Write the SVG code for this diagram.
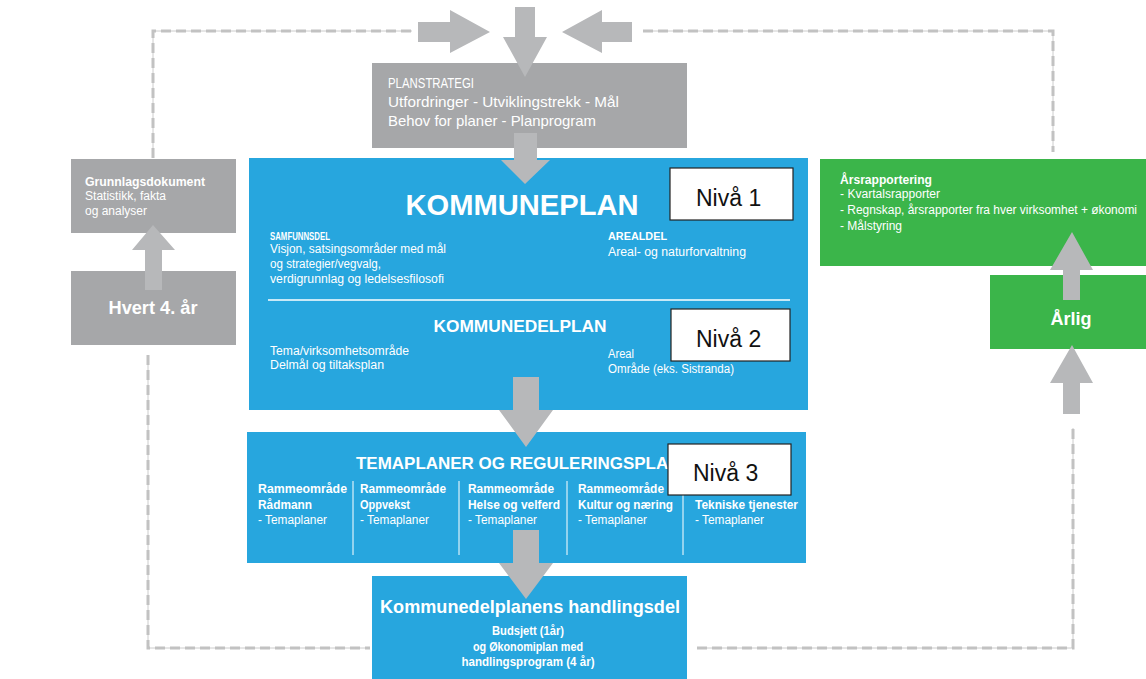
<svg xmlns="http://www.w3.org/2000/svg" width="1146" height="679" viewBox="0 0 1146 679">
<style>
text{font-family:"Liberation Sans",Arial,sans-serif;fill:#fff}
.b{font-weight:bold}
.s11{font-size:12px}
.s10{font-size:11px}
.blue{fill:#27a6de}
.gray{fill:#a6a7a9}
.green{fill:#3bb54a}
.arr{fill:#b7b8ba}
.niva{fill:#fff;stroke:#222;stroke-width:1.2}
.nt{font-family:"Liberation Sans",Arial,sans-serif;font-size:23px;fill:#111}
.dash{fill:none;stroke:#c2c2c2;stroke-width:3;stroke-dasharray:10 5}
.thin{fill:none;stroke:#cccccc;stroke-width:1}
.div{stroke:#fff;stroke-width:1}
</style>

<g id="planstrategi">
<rect class="gray" x="372" y="63" width="315" height="85"/>
<text x="388" y="88" font-size="15" textLength="86" lengthAdjust="spacingAndGlyphs">PLANSTRATEGI</text>
<text x="388" y="107" font-size="15" textLength="231" lengthAdjust="spacingAndGlyphs">Utfordringer - Utviklingstrekk - Mål</text>
<text x="388" y="126" font-size="15" textLength="208" lengthAdjust="spacingAndGlyphs">Behov for planer - Planprogram</text>
</g>

<g id="grunnlagsdokument">
<rect class="gray" x="71" y="159" width="165" height="74"/>
<text x="85" y="186" class="b s11" textLength="120" lengthAdjust="spacingAndGlyphs">Grunnlagsdokument</text>
<text x="85" y="200" class="s11" textLength="81" lengthAdjust="spacingAndGlyphs">Statistikk, fakta</text>
<text x="85" y="215" class="s11" textLength="62" lengthAdjust="spacingAndGlyphs">og analyser</text>
</g>

<g id="hvert4aar">
<rect class="gray" x="71" y="271" width="165" height="74"/>
<text x="153" y="314" class="b" font-size="18" text-anchor="middle" textLength="89" lengthAdjust="spacingAndGlyphs">Hvert 4. år</text>
</g>

<g id="kommuneplan">
<rect class="blue" x="249" y="158" width="559" height="252"/>
<text x="522" y="215" class="b" font-size="30" text-anchor="middle" textLength="233" lengthAdjust="spacingAndGlyphs">KOMMUNEPLAN</text>
<text x="270" y="240" class="b s10" textLength="60" lengthAdjust="spacingAndGlyphs">SAMFUNNSDEL</text>
<text x="270" y="253" class="s11" textLength="176" lengthAdjust="spacingAndGlyphs">Visjon, satsingsområder med mål</text>
<text x="270" y="268" class="s11" textLength="111" lengthAdjust="spacingAndGlyphs">og strategier/vegvalg,</text>
<text x="270" y="283" class="s11" textLength="174" lengthAdjust="spacingAndGlyphs">verdigrunnlag og ledelsesfilosofi</text>
<text x="608" y="240" class="b s10" textLength="59" lengthAdjust="spacingAndGlyphs">AREALDEL</text>
<text x="608" y="256" class="s11" textLength="138" lengthAdjust="spacingAndGlyphs">Areal- og naturforvaltning</text>
<line x1="268" y1="300" x2="790" y2="300" stroke="#fff" stroke-width="1.5"/>
<text x="520" y="332" class="b" font-size="16" text-anchor="middle" textLength="173" lengthAdjust="spacingAndGlyphs">KOMMUNEDELPLAN</text>
<text x="270" y="355" class="s11" textLength="139" lengthAdjust="spacingAndGlyphs">Tema/virksomhetsområde</text>
<text x="270" y="369" class="s11" textLength="114" lengthAdjust="spacingAndGlyphs">Delmål og tiltaksplan</text>
<text x="608" y="358" class="s11" textLength="26" lengthAdjust="spacingAndGlyphs">Areal</text>
<text x="608" y="373" class="s11" textLength="126" lengthAdjust="spacingAndGlyphs">Område (eks. Sistranda)</text>
</g>

<g id="niva1">
<rect class="niva" x="670" y="168" width="123" height="52"/>
<text class="nt" x="696" y="206">Nivå 1</text>
</g>
<g id="niva2">
<rect class="niva" x="671" y="309" width="119" height="52"/>
<text class="nt" x="696" y="347">Nivå 2</text>
</g>

<g id="temaplaner">
<rect class="blue" x="247" y="432" width="559" height="131"/>
<text x="356" y="469" class="b" font-size="17" textLength="348" lengthAdjust="spacingAndGlyphs">TEMAPLANER OG REGULERINGSPLANER</text>
<line class="div" x1="353" y1="481" x2="353" y2="555"/>
<line class="div" x1="459" y1="481" x2="459" y2="555"/>
<line class="div" x1="567" y1="481" x2="567" y2="555"/>
<line class="div" x1="683" y1="481" x2="683" y2="555"/>
<text x="258" y="493" class="b s11" textLength="89" lengthAdjust="spacingAndGlyphs">Rammeområde</text>
<text x="258" y="509" class="b s11" textLength="54" lengthAdjust="spacingAndGlyphs">Rådmann</text>
<text x="258" y="524" class="s11" textLength="69" lengthAdjust="spacingAndGlyphs">- Temaplaner</text>
<text x="360" y="493" class="b s11" textLength="86" lengthAdjust="spacingAndGlyphs">Rammeområde</text>
<text x="360" y="509" class="b s11" textLength="50" lengthAdjust="spacingAndGlyphs">Oppvekst</text>
<text x="360" y="524" class="s11" textLength="69" lengthAdjust="spacingAndGlyphs">- Temaplaner</text>
<text x="468" y="493" class="b s11" textLength="86" lengthAdjust="spacingAndGlyphs">Rammeområde</text>
<text x="468" y="509" class="b s11" textLength="92" lengthAdjust="spacingAndGlyphs">Helse og velferd</text>
<text x="468" y="524" class="s11" textLength="69" lengthAdjust="spacingAndGlyphs">- Temaplaner</text>
<text x="578" y="493" class="b s11" textLength="86" lengthAdjust="spacingAndGlyphs">Rammeområde</text>
<text x="578" y="509" class="b s11" textLength="95" lengthAdjust="spacingAndGlyphs">Kultur og næring</text>
<text x="578" y="524" class="s11" textLength="69" lengthAdjust="spacingAndGlyphs">- Temaplaner</text>
<text x="695" y="509" class="b s11" textLength="103" lengthAdjust="spacingAndGlyphs">Tekniske tjenester</text>
<text x="695" y="524" class="s11" textLength="69" lengthAdjust="spacingAndGlyphs">- Temaplaner</text>
</g>

<g id="niva3">
<rect class="niva" x="668" y="444" width="123" height="51"/>
<text class="nt" x="693" y="481">Nivå 3</text>
</g>

<g id="handlingsdel">
<rect class="blue" x="372" y="576" width="315" height="103"/>
<text x="530" y="613" class="b" font-size="19" text-anchor="middle" textLength="300" lengthAdjust="spacingAndGlyphs">Kommunedelplanens handlingsdel</text>
<text x="528" y="635" class="b s11" text-anchor="middle" textLength="72" lengthAdjust="spacingAndGlyphs">Budsjett (1år)</text>
<text x="528" y="651" class="b s11" text-anchor="middle" textLength="110" lengthAdjust="spacingAndGlyphs">og Økonomiplan med</text>
<text x="528" y="666" class="b s11" text-anchor="middle" textLength="133" lengthAdjust="spacingAndGlyphs">handlingsprogram (4 år)</text>
</g>

<g id="aarsrapportering">
<rect class="green" x="820" y="159" width="326" height="107"/>
<text x="840" y="184" class="b s11" textLength="92" lengthAdjust="spacingAndGlyphs">Årsrapportering</text>
<text x="840" y="198" class="s11" textLength="100" lengthAdjust="spacingAndGlyphs">- Kvartalsrapporter</text>
<text x="840" y="214" class="s11" textLength="297" lengthAdjust="spacingAndGlyphs">- Regnskap, årsrapporter fra hver virksomhet + økonomi</text>
<text x="840" y="230" class="s11" textLength="62" lengthAdjust="spacingAndGlyphs">- Målstyring</text>
</g>

<g id="aarlig">
<rect class="green" x="990" y="275" width="156" height="74"/>
<text x="1071" y="325" class="b" font-size="18" text-anchor="middle" textLength="41" lengthAdjust="spacingAndGlyphs">Årlig</text>
</g>

<g id="connectors">
<path class="thin" d="M153,158 V31 H412 M643,31 H1053 V152 M148,355 V648 H370 M697,648 H1073 V428"/>
<path class="dash" d="M153,158 V31 H412 M643,31 H1053 V152 M148,355 V648 H370 M697,648 H1073 V428"/>
<polygon class="arr" points="418,22 450,22 450,10 490,32 450,53 450,42 418,42"/>
<polygon class="arr" points="632,22 602,22 602,10 562,32 602,53 602,42 632,42"/>
<polygon class="arr" points="515,7 535,7 535,37 547,37 525,77 503,37 515,37"/>
<polygon class="arr" points="514,133 537,133 537,160 550,160 525,184 501,160 514,160"/>
<polygon class="arr" points="513,377 539,377 539,410 553,410 526,447 499,410 513,410"/>
<polygon class="arr" points="513,530 539,530 539,563 553,563 526,599 499,563 513,563"/>
<polygon class="arr" points="145,290 162,290 162,250 175,250 153,225 132,250 145,250"/>
<polygon class="arr" points="1063,300 1080,300 1080,270 1093,270 1072,232 1050,270 1063,270"/>
<polygon class="arr" points="1063,414 1080,414 1080,383 1093,383 1072,345 1050,383 1063,383"/>
</g>
</svg>
